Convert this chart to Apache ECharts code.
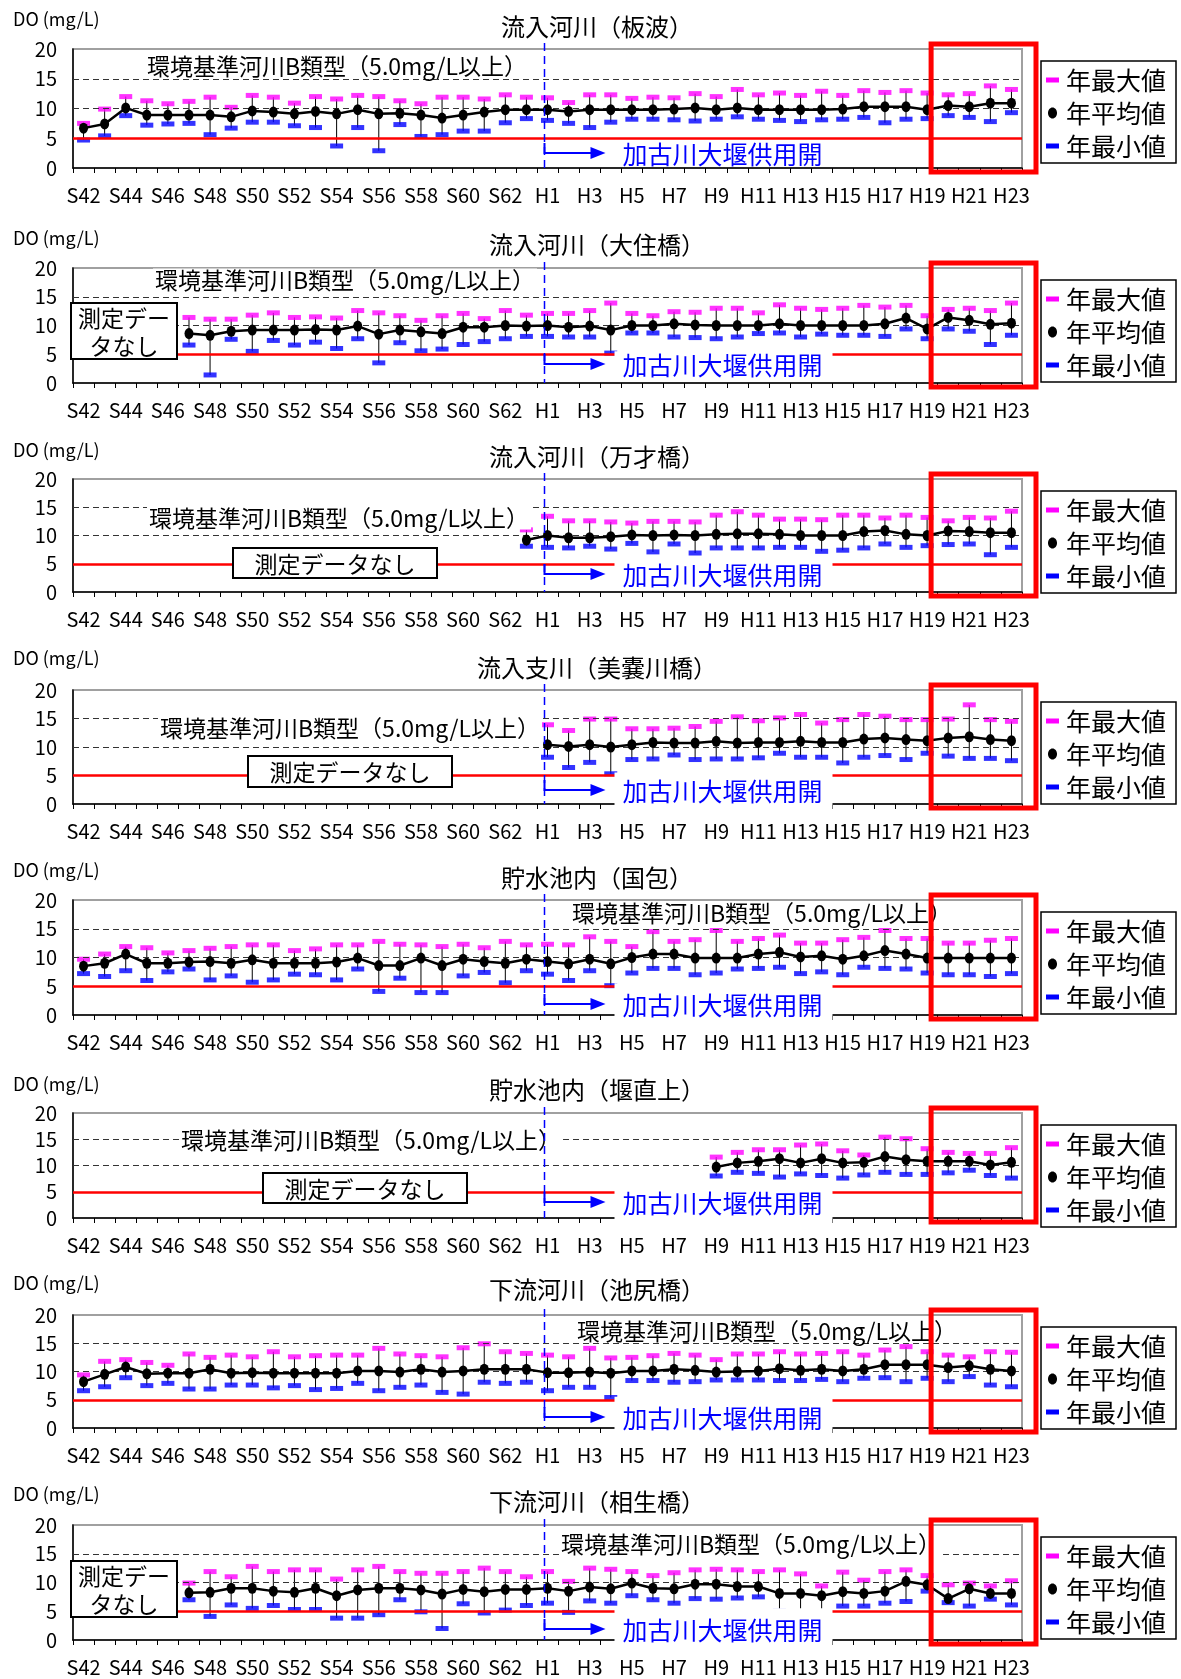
<!DOCTYPE html>
<html><head><meta charset="utf-8">
<script src="https://cdn.jsdelivr.net/npm/echarts@6/dist/echarts.min.js"></script>
<style>html,body{margin:0;padding:0;background:#fff}#c{width:1181px;height:1679px}</style>
</head><body><div id="c"></div>
<script>
const N = null;
const categories = ['S42','S43','S44','S45','S46','S47','S48','S49','S50','S51','S52','S53','S54','S55','S56','S57','S58','S59','S60','S61','S62','S63',
  'H1','H2','H3','H4','H5','H6','H7','H8','H9','H10','H11','H12','H13','H14','H15','H16','H17','H18','H19','H20','H21','H22','H23'];
const yTicks = [0, 5, 10, 15, 20];
const envStandard = 5.0;

// 流入河川（板波）
const itanamiMax  = [7.5,9.9,12.0,11.3,10.8,11.2,11.9,10.2,12.2,11.9,10.9,12.0,11.6,12.2,12.0,11.3,10.8,11.9,11.9,11.6,12.3,11.9,11.8,11.0,12.3,12.3,11.7,11.9,11.8,12.5,12.0,13.2,12.3,12.6,12.2,12.9,12.2,13.0,12.7,13.0,12.6,12.3,12.5,13.8,13.2];
const itanamiMean = [6.7,7.4,10.1,8.9,8.9,8.9,8.9,8.6,9.6,9.4,9.1,9.5,9.1,9.8,9.1,9.2,8.9,8.4,8.9,9.4,9.8,9.8,9.8,9.5,9.8,9.8,9.8,9.8,9.9,10.1,9.8,10.1,9.8,9.8,9.8,9.8,9.9,10.3,10.3,10.3,9.8,10.5,10.3,10.9,10.9];
const itanamiMin  = [4.7,5.4,8.8,7.2,7.4,7.5,5.6,6.7,7.7,7.7,7.1,6.8,3.7,6.8,2.9,7.3,5.3,5.6,6.2,6.2,7.6,8.3,8.0,7.5,6.8,7.7,8.2,8.2,8.1,7.9,8.2,8.6,8.2,8.0,7.8,8.1,8.2,8.5,7.6,8.2,8.3,8.8,8.5,7.8,9.3];
// 流入河川（大住橋）
const osumiMax  = [N,N,N,N,N,11.4,11.1,11.1,11.8,12.2,11.4,11.5,11.3,12.6,12.2,11.7,10.9,11.7,12.1,11.2,12.6,11.8,12.1,12.1,12.6,13.9,12.1,11.7,12.4,12.3,13.0,13.0,12.2,13.6,13.0,12.8,13.0,13.5,13.2,13.5,11.7,12.8,13.0,12.6,13.9];
const osumiMean = [N,N,N,N,N,8.6,8.3,9.0,9.2,9.2,9.2,9.3,9.2,9.9,8.5,9.2,8.9,8.6,9.7,9.7,10.0,9.9,10.0,9.7,9.9,9.2,10.0,10.0,10.3,10.1,10.0,10.0,10.0,10.3,10.0,10.0,10.0,10.0,10.3,11.3,9.4,11.4,10.9,10.2,10.4];
const osumiMin  = [N,N,N,N,N,6.6,1.4,7.6,5.5,7.4,6.6,7.1,6.0,7.7,3.5,7.0,5.6,5.9,6.7,7.2,7.7,8.1,8.1,8.0,8.0,5.2,8.7,8.7,8.0,7.9,7.7,8.0,8.6,8.7,8.0,8.5,8.3,8.3,8.1,9.4,7.7,9.4,9.0,6.7,8.3];
// 流入河川（万才橋）
const banzaiMax  = [N,N,N,N,N,N,N,N,N,N,N,N,N,N,N,N,N,N,N,N,N,11.0,13.4,12.6,12.6,12.4,12.2,12.5,12.5,12.4,13.6,14.2,13.6,12.9,12.9,12.8,13.6,13.6,13.1,13.6,13.2,12.6,13.2,13.1,14.3];
const banzaiMean = [N,N,N,N,N,N,N,N,N,N,N,N,N,N,N,N,N,N,N,N,N,9.2,10.0,9.6,9.6,9.8,10.1,10.0,10.1,10.0,10.2,10.3,10.3,10.2,10.0,10.0,10.0,10.7,10.9,10.2,10.0,10.8,10.7,10.5,10.5];
const banzaiMin  = [N,N,N,N,N,N,N,N,N,N,N,N,N,N,N,N,N,N,N,N,N,8.1,7.9,7.8,8.1,7.6,8.6,7.1,8.5,6.9,7.8,7.8,7.8,7.9,7.9,7.2,7.4,7.8,8.5,7.9,8.2,8.4,8.5,6.6,7.9];
// 流入支川（美嚢川橋）
const minouMax  = [N,N,N,N,N,N,N,N,N,N,N,N,N,N,N,N,N,N,N,N,N,N,13.9,12.9,14.9,14.9,13.2,13.2,13.3,13.6,14.5,15.3,14.6,15.1,15.7,14.2,14.8,15.7,15.4,14.8,14.8,14.9,17.4,14.8,14.5];
const minouMean = [N,N,N,N,N,N,N,N,N,N,N,N,N,N,N,N,N,N,N,N,N,N,10.4,10.1,10.4,10.0,10.4,10.8,10.7,10.7,11.0,10.7,10.8,10.8,11.0,10.8,10.8,11.4,11.6,11.3,11.1,11.6,11.8,11.3,11.1];
const minouMin  = [N,N,N,N,N,N,N,N,N,N,N,N,N,N,N,N,N,N,N,N,N,N,8.2,6.4,7.3,5.3,7.8,7.9,8.6,7.8,7.9,7.9,8.1,8.9,8.2,8.2,7.2,8.2,8.5,7.8,8.9,8.4,8.0,8.0,7.6];
// 貯水池内（国包）
const kunikaneMax  = [9.7,10.6,11.9,11.7,10.8,11.2,11.6,11.9,12.2,12.2,11.2,11.5,12.2,12.2,12.8,12.3,12.2,11.9,12.3,11.7,12.8,12.2,12.3,12.2,13.6,12.8,11.9,14.5,12.8,13.1,14.7,12.8,13.3,13.9,12.5,12.5,13.1,13.5,14.7,13.3,13.3,12.5,12.5,13.0,13.3];
const kunikaneMean = [8.5,9.0,10.6,9.0,9.0,9.2,9.3,9.0,9.6,9.0,9.0,9.0,9.2,9.9,8.6,8.6,9.9,8.6,9.7,9.3,9.0,9.7,9.3,8.9,9.7,8.9,10.0,10.6,10.6,9.9,9.9,9.9,10.6,10.9,10.1,10.3,9.7,10.3,11.2,10.6,9.9,9.9,9.9,9.9,9.9];
const kunikaneMin  = [7.2,6.7,7.7,6.0,7.5,8.0,6.1,6.8,5.7,6.1,7.1,7.0,6.1,8.0,4.1,6.4,3.9,3.9,6.8,7.4,5.6,7.7,7.1,6.0,7.7,5.1,7.3,8.1,8.1,7.0,7.3,8.0,8.1,8.3,7.2,7.5,7.0,8.3,8.1,8.0,7.3,7.0,7.0,6.7,7.2];
// 貯水池内（堰直上）
const sekijoMax  = [N,N,N,N,N,N,N,N,N,N,N,N,N,N,N,N,N,N,N,N,N,N,N,N,N,N,N,N,N,N,11.6,12.5,13.0,13.0,13.9,14.1,12.8,12.0,15.4,15.1,13.2,12.5,12.3,12.3,13.4];
const sekijoMean = [N,N,N,N,N,N,N,N,N,N,N,N,N,N,N,N,N,N,N,N,N,N,N,N,N,N,N,N,N,N,9.7,10.5,10.8,11.3,10.5,11.3,10.5,10.6,11.7,11.1,10.8,10.8,10.8,10.1,10.6];
const sekijoMin  = [N,N,N,N,N,N,N,N,N,N,N,N,N,N,N,N,N,N,N,N,N,N,N,N,N,N,N,N,N,N,8.0,8.7,8.5,7.8,8.4,8.1,7.6,8.2,8.7,8.3,8.3,8.6,9.1,8.1,7.6];
// 下流河川（池尻橋）
const ikejiriMax  = [9.4,11.8,12.1,11.6,11.1,13.1,12.5,12.9,12.6,13.5,12.6,12.8,12.9,12.9,14.1,13.1,12.8,12.6,14.2,14.9,13.5,13.2,12.9,12.6,14.1,12.4,12.5,12.8,13.2,12.9,12.1,13.1,13.1,13.5,13.1,13.2,13.5,12.9,13.8,14.4,13.5,12.9,12.6,13.5,13.4];
const ikejiriMean = [8.2,9.5,10.8,9.6,9.7,9.7,10.4,9.7,9.8,9.7,9.7,9.7,9.7,10.1,10.1,9.9,10.4,9.9,10.1,10.4,10.4,10.4,9.8,9.8,9.9,9.7,10.1,10.1,10.4,10.2,9.9,10.0,10.1,10.5,10.2,10.4,10.1,10.4,11.2,11.2,11.2,10.7,11.0,10.4,10.1];
const ikejiriMin  = [6.6,7.3,8.9,7.5,7.9,6.9,6.9,7.6,7.6,7.1,7.5,6.8,7.0,7.9,6.6,7.2,7.6,6.3,6.0,8.1,7.9,8.1,6.6,7.2,7.2,5.4,8.4,8.4,8.1,8.2,8.5,8.5,8.5,8.4,8.4,8.6,8.2,8.8,8.9,8.2,8.8,8.2,9.1,7.6,7.3];
// 下流河川（相生橋）
const aioiMax  = [N,N,N,N,N,9.9,11.9,11.0,12.8,11.9,12.2,12.2,10.6,12.2,12.8,11.9,11.6,11.6,11.9,12.5,11.9,11.0,11.9,10.2,12.5,12.3,11.9,11.2,11.7,12.2,12.3,12.2,11.9,12.2,11.5,9.4,11.8,10.4,11.9,12.2,11.2,9.6,9.9,9.4,10.3];
const aioiMean = [N,N,N,N,N,8.2,8.3,9.0,9.0,8.5,8.3,9.0,7.7,8.7,9.0,9.0,8.7,8.0,8.8,8.4,8.8,8.8,9.0,8.5,9.2,8.9,9.9,9.0,8.9,9.7,9.7,9.3,9.3,8.1,8.1,7.7,8.4,8.1,8.5,10.2,9.6,7.2,8.9,8.1,8.1];
const aioiMin  = [N,N,N,N,N,7.0,4.1,6.1,5.5,6.0,5.3,5.3,3.8,3.8,4.4,7.0,4.9,2.0,6.3,4.7,5.2,6.0,6.4,4.8,6.8,6.4,7.7,7.0,6.4,7.2,7.1,7.3,7.5,5.0,4.9,4.9,5.9,5.9,6.4,6.7,8.5,6.5,5.9,7.1,6.1];

const stations = [
  {title:'流入河川（板波）', max:itanamiMax, mean:itanamiMean, min:itanamiMin},
  {title:'流入河川（大住橋）', max:osumiMax, mean:osumiMean, min:osumiMin},
  {title:'流入河川（万才橋）', max:banzaiMax, mean:banzaiMean, min:banzaiMin},
  {title:'流入支川（美嚢川橋）', max:minouMax, mean:minouMean, min:minouMin},
  {title:'貯水池内（国包）', max:kunikaneMax, mean:kunikaneMean, min:kunikaneMin},
  {title:'貯水池内（堰直上）', max:sekijoMax, mean:sekijoMean, min:sekijoMin},
  {title:'下流河川（池尻橋）', max:ikejiriMax, mean:ikejiriMean, min:ikejiriMin},
  {title:'下流河川（相生橋）', max:aioiMax, mean:aioiMean, min:aioiMin}
];

const layout = [
  {top:49,  h:119, titleY:27,   doY:19,   std:[145,66],   arrowUp:15, box:0, nodata:null},
  {top:268, h:115, titleY:245,  doY:238,  std:[153,280],  arrowUp:19, box:1, nodata:{x:71,y:303,w:106,h:56,lines:['測定デー','タなし']}},
  {top:479, h:113, titleY:457,  doY:450,  std:[147,518],  arrowUp:18, box:1, nodata:{x:233,y:548,w:204,h:30,lines:['測定データなし']}},
  {top:690, h:114, titleY:668,  doY:658,  std:[158,728],  arrowUp:14, box:2, nodata:{x:248,y:756,w:204,h:31,lines:['測定データなし']}},
  {top:900, h:115, titleY:878,  doY:870,  std:[570,913],  arrowUp:11, box:2, nodata:null},
  {top:1113,h:105, titleY:1090, doY:1084, std:[179,1140], arrowUp:16, box:2, nodata:{x:263,y:1173,w:204,h:30,lines:['測定データなし']}},
  {top:1315,h:113, titleY:1290, doY:1283, std:[575,1331], arrowUp:11, box:2, nodata:null},
  {top:1525,h:115, titleY:1502, doY:1494, std:[559,1544], arrowUp:11, box:2, nodata:{x:71,y:1561,w:106,h:56,lines:['測定デー','タなし']}}
];

const FONT = "'Noto Sans CJK JP', 'Noto Sans', sans-serif";
const GL = 73, GW = 949;
const dash = v => (v == null ? '-' : v);

const grids = [], xAxes = [], yAxes = [], series = [];
stations.forEach((s, k) => {
  const L = layout[k];
  grids.push({left:GL, width:GW, top:L.top, height:L.h, show:true, borderColor:'#a0a0a0', borderWidth:2, backgroundColor:'#fff'});
  xAxes.push({type:'category', gridIndex:k, data:categories, boundaryGap:true,
    axisLine:{show:true, lineStyle:{color:'#000', width:1.5}},
    axisTick:{show:true, interval:0, length:5, lineStyle:{color:'#000'}},
    axisLabel:{interval:1, fontSize:20, color:'#000', margin:17, fontFamily:FONT},
    splitLine:{show:false}});
  yAxes.push({type:'value', gridIndex:k, min:yTicks[0], max:yTicks[yTicks.length-1], interval:5,
    axisLine:{show:true, lineStyle:{color:'#000', width:1.5}},
    axisTick:{show:false},
    axisLabel:{fontSize:20, color:'#000', margin:16, fontFamily:FONT},
    splitLine:{show:false}});
  const errData = [];
  categories.forEach((c, i) => { if (s.min[i] != null && s.max[i] != null) errData.push([i, s.min[i], s.max[i]]); });
  series.push({type:'custom', name:'範囲', xAxisIndex:k, yAxisIndex:k, data:errData, z:2, silent:true,
    encode:{x:0, y:[1,2]},
    renderItem:(params, api) => {
      const p1 = api.coord([api.value(0), api.value(1)]);
      const p2 = api.coord([api.value(0), api.value(2)]);
      return {type:'line', shape:{x1:p1[0], y1:p1[1], x2:p2[0], y2:p2[1]}, style:{stroke:'#000', lineWidth:1}};
    },
    markLine:{silent:true, symbol:'none', label:{show:false}, animation:false,
      data:[
        {yAxis:envStandard, lineStyle:{color:'#ff0000', width:2.5, type:'solid'}},
        {yAxis:10, lineStyle:{color:'#333', width:1, type:[6,4]}},
        {yAxis:15, lineStyle:{color:'#333', width:1, type:[6,4]}}
      ]}
  });
  series.push({type:'scatter', name:'年最大値', xAxisIndex:k, yAxisIndex:k, data:s.max.map(dash),
    symbol:'rect', symbolSize:[13,5], itemStyle:{color:'#ff00ff'}, z:4});
  series.push({type:'scatter', name:'年最小値', xAxisIndex:k, yAxisIndex:k, data:s.min.map(dash),
    symbol:'rect', symbolSize:[13,5], itemStyle:{color:'#0000ff'}, z:4});
  series.push({type:'line', name:'年平均値', xAxisIndex:k, yAxisIndex:k, data:s.mean.map(dash),
    symbol:'circle', symbolSize:[9,11], showAllSymbol:true, connectNulls:false,
    lineStyle:{color:'#000', width:2.5}, itemStyle:{color:'#000'}, z:5});
});

const chart = echarts.init(document.getElementById('c'), null, {renderer:'canvas'});
chart.setOption({animation:false, backgroundColor:'#fff', grid:grids, xAxis:xAxes, yAxis:yAxes, series:series});

function txt(x, y, text, size, opt) {
  opt = opt || {};
  return {type:'text', x:x, y:y, z:opt.z || 20, silent:true,
    style:Object.assign({text:text, font:(opt.weight||'normal') + ' ' + size + 'px ' + FONT, fill:opt.fill || '#000',
      align:opt.align || 'left', verticalAlign:'middle', textAlign:opt.align || 'left', textVerticalAlign:'middle'}, opt.extra || {})};
}

const g = [];
layout.forEach((L, k) => {
  const top = L.top, bot = L.top + L.h;
  const xH1 = chart.convertToPixel({xAxisIndex:k}, 'H1');
  const xH19 = chart.convertToPixel({xAxisIndex:k}, 'H19');
  const y5 = chart.convertToPixel({yAxisIndex:k}, envStandard);
  // title & unit
  g.push(txt(597, L.titleY, stations[k].title, 24, {align:'center'}));
  g.push(txt(13, L.doY, 'DO (mg/L)', 18));
  // environmental standard text
  g.push(txt(L.std[0], L.std[1], '環境基準河川B類型（5.0mg/L以上）', 23,
    {z:15, extra:{backgroundColor:'#fff', padding:[0,2,0,2]}}));
  // no-data box
  if (L.nodata) {
    const d = L.nodata;
    g.push({type:'rect', z:15, silent:true, shape:{x:d.x, y:d.y, width:d.w, height:d.h}, style:{fill:'#fff', stroke:'#000', lineWidth:2}});
    const lh = d.h / d.lines.length;
    d.lines.forEach((t, j) => g.push(txt(d.x + d.w/2, d.y + lh*(j+0.5) + 1, t, 23, {align:'center', z:16})));
  }
  // white box behind the dam label
  const ay = bot - L.arrowUp;
  if (L.box) {
    const by1 = y5 - 3, by2 = L.box === 2 ? bot + 7 : bot - 3;
    g.push({type:'rect', z:15, silent:true, shape:{x:xH1 + 67, y:by1, width:218, height:by2 - by1}, style:{fill:'#fff'}});
  }
  // vertical dashed line at H1
  const lx = xH1 - 3;
  g.push({type:'line', z:17, silent:true, shape:{x1:lx, y1:top - 6, x2:lx, y2:bot}, style:{stroke:'#0000ff', lineWidth:1.5, lineDash:[8,5]}});
  // arrow
  g.push({type:'polyline', z:17, silent:true, shape:{points:[[lx, ay - 10], [lx, ay], [lx + 48, ay]]}, style:{stroke:'#0000ff', lineWidth:2, fill:null}});
  g.push({type:'polygon', z:17, silent:true, shape:{points:[[lx + 46, ay - 6], [lx + 61, ay], [lx + 46, ay + 6]]}, style:{fill:'#0000ff'}});
  g.push(txt(lx + 78, ay + 1, '加古川大堰供用開', 25, {fill:'#0000ff', z:18}));
  // legend
  const lgx = 1041, lgy = top + 12;
  g.push({type:'rect', z:18, silent:true, shape:{x:lgx, y:lgy, width:135, height:102}, style:{fill:'#fff', stroke:'#000', lineWidth:1.5}});
  const rows = [lgy + 19, lgy + 52, lgy + 85];
  g.push({type:'rect', z:19, silent:true, shape:{x:1046, y:rows[0] - 2.5, width:13, height:5}, style:{fill:'#ff00ff'}});
  g.push({type:'ellipse', z:19, silent:true, shape:{cx:1052.5, cy:rows[1], rx:4.5, ry:5.5}, style:{fill:'#000'}});
  g.push({type:'rect', z:19, silent:true, shape:{x:1046, y:rows[2] - 2.5, width:13, height:5}, style:{fill:'#0000ff'}});
  g.push(txt(1066, rows[0], '年最大値', 25, {z:19}));
  g.push(txt(1066, rows[1], '年平均値', 25, {z:19}));
  g.push(txt(1066, rows[2], '年最小値', 25, {z:19}));
  // red highlight box (H19-H23)
  g.push({type:'rect', z:25, silent:true, shape:{x:xH19 + 4, y:top - 5, width:1036 - (xH19 + 4), height:L.h + 9}, style:{fill:null, stroke:'#ff0000', lineWidth:5}});
});
chart.setOption({graphic:{elements:g}});
</script>
</body></html>
